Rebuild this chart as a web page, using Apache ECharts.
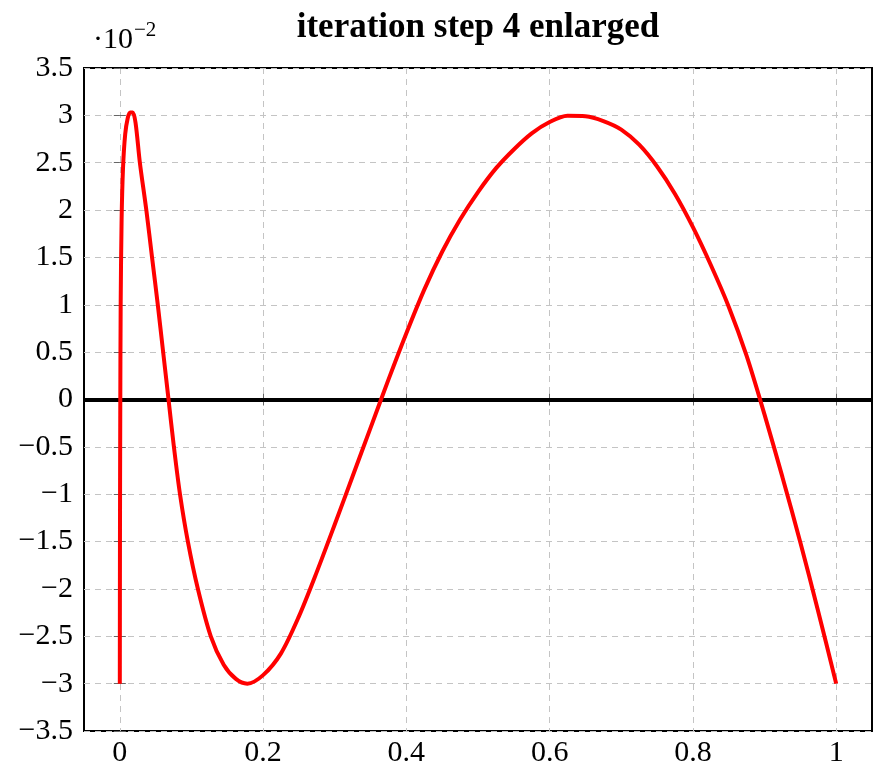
<!DOCTYPE html>
<html>
<head>
<meta charset="utf-8">
<script src="https://cdn.jsdelivr.net/npm/echarts@6/dist/echarts.min.js"></script>
<style>
html,body{margin:0;padding:0;background:#fff;}
#chart{width:873px;height:771px;}
</style>
</head>
<body>
<div id="chart"></div>
<script>
// x positions and error values (in units of 10^-2)
const xValues = [0, 0.0002, 0.0006, 0.0012, 0.0025, 0.0045, 0.0075, 0.011, 0.0145, 0.018, 0.022, 0.028, 0.037, 0.045, 0.053, 0.0605, 0.068, 0.0755, 0.084, 0.095, 0.109, 0.127, 0.145, 0.162, 0.178, 0.20, 0.225, 0.25, 0.275, 0.30, 0.325, 0.35, 0.375, 0.40, 0.425, 0.45, 0.475, 0.50, 0.525, 0.55, 0.575, 0.60, 0.625, 0.65, 0.675, 0.70, 0.725, 0.75, 0.775, 0.80, 0.825, 0.85, 0.875, 0.90, 0.925, 0.95, 0.975, 1.0];
const yValues = [-3.0, -1.5, -0.2, 1.0, 1.9, 2.45, 2.8, 2.97, 3.03, 3.03, 2.92, 2.5, 2.0, 1.5, 1.0, 0.5, 0.0, -0.5, -1.0, -1.5, -2.0, -2.5, -2.80, -2.95, -3.0, -2.91, -2.68, -2.29, -1.82, -1.32, -0.81, -0.30, 0.21, 0.70, 1.16, 1.56, 1.90, 2.19, 2.44, 2.64, 2.81, 2.93, 2.995, 2.99, 2.94, 2.85, 2.69, 2.46, 2.17, 1.82, 1.42, 0.98, 0.46, -0.16, -0.82, -1.51, -2.24, -3.0];
const xTicks = [0, 0.2, 0.4, 0.6, 0.8, 1];
const yTicks = [-3.5, -3, -2.5, -2, -1.5, -1, -0.5, 0, 0.5, 1, 1.5, 2, 2.5, 3, 3.5];
const titleText = 'iteration step 4 enlarged';

const FONT = 'Liberation Serif';
const fmt = v => {
  const s = String(Math.round(v * 100) / 100);
  return s.startsWith('-') ? '\u2212' + s.slice(1) : s;
};
const data = xValues.map((x, i) => [x, yValues[i]]);

const chart = echarts.init(document.getElementById('chart'), null, {renderer: 'canvas'});
const gridLine = {show: true, lineStyle: {color: '#c4c4c4', type: [6, 5], width: 1}};
chart.setOption({
  animation: false,
  grid: {left: 84, right: 1, top: 68, bottom: 40, show: true, borderColor: '#000', borderWidth: 2, backgroundColor: 'transparent'},
  graphic: [
    {type: 'text', x: 478, y: 10, style: {text: titleText, font: 'bold 35px "' + FONT + '"', fill: '#000', textAlign: 'center', textVerticalAlign: 'top'}},
    {type: 'text', x: 93, y: 25, style: {text: '\u00b710', font: '30px "' + FONT + '"', fill: '#000', textAlign: 'left', textVerticalAlign: 'top'}},
    {type: 'text', x: 134, y: 20, style: {text: '\u22122', font: '21px "' + FONT + '"', fill: '#000', textAlign: 'left', textVerticalAlign: 'top'}}
  ],
  xAxis: [{
    type: 'value', min: -0.05, max: 1.05,
    axisLine: {show: false},
    axisTick: {show: true, inside: true, length: 6, lineStyle: {color: '#666'}, customValues: xTicks},
    axisLabel: {customValues: xTicks, formatter: fmt, fontFamily: FONT, fontSize: 30, color: '#000', margin: 7},
    splitLine: gridLine,
    customValues: xTicks
  }, {
    type: 'value', min: -0.05, max: 1.05, position: 'top',
    axisLine: {show: false},
    axisTick: {show: true, inside: true, length: 6, lineStyle: {color: '#666'}, customValues: xTicks},
    axisLabel: {show: false, customValues: xTicks},
    splitLine: {show: false}
  }],
  yAxis: [{
    type: 'value', min: -3.5, max: 3.5, interval: 0.5,
    axisLine: {show: false},
    axisTick: {show: true, inside: true, length: 6, lineStyle: {color: '#666'}},
    axisLabel: {formatter: fmt, fontFamily: FONT, fontSize: 30, color: '#000', margin: 11},
    splitLine: gridLine
  }, {
    type: 'value', min: -3.5, max: 3.5, interval: 0.5, position: 'right',
    axisLine: {show: false},
    axisTick: {show: true, inside: true, length: 6, lineStyle: {color: '#666'}},
    axisLabel: {show: false},
    splitLine: {show: false}
  }],
  series: [{
    type: 'line', data: data, showSymbol: false, smooth: 0.3,
    lineStyle: {color: '#ff0000', width: 4},
    clip: false,
    z: 3,
    markLine: {
      silent: true, symbol: 'none', label: {show: false},
      lineStyle: {color: '#000', width: 4, type: 'solid'},
      data: [{yAxis: 0}],
      z: 2
    }
  }]
});
</script>
</body>
</html>
